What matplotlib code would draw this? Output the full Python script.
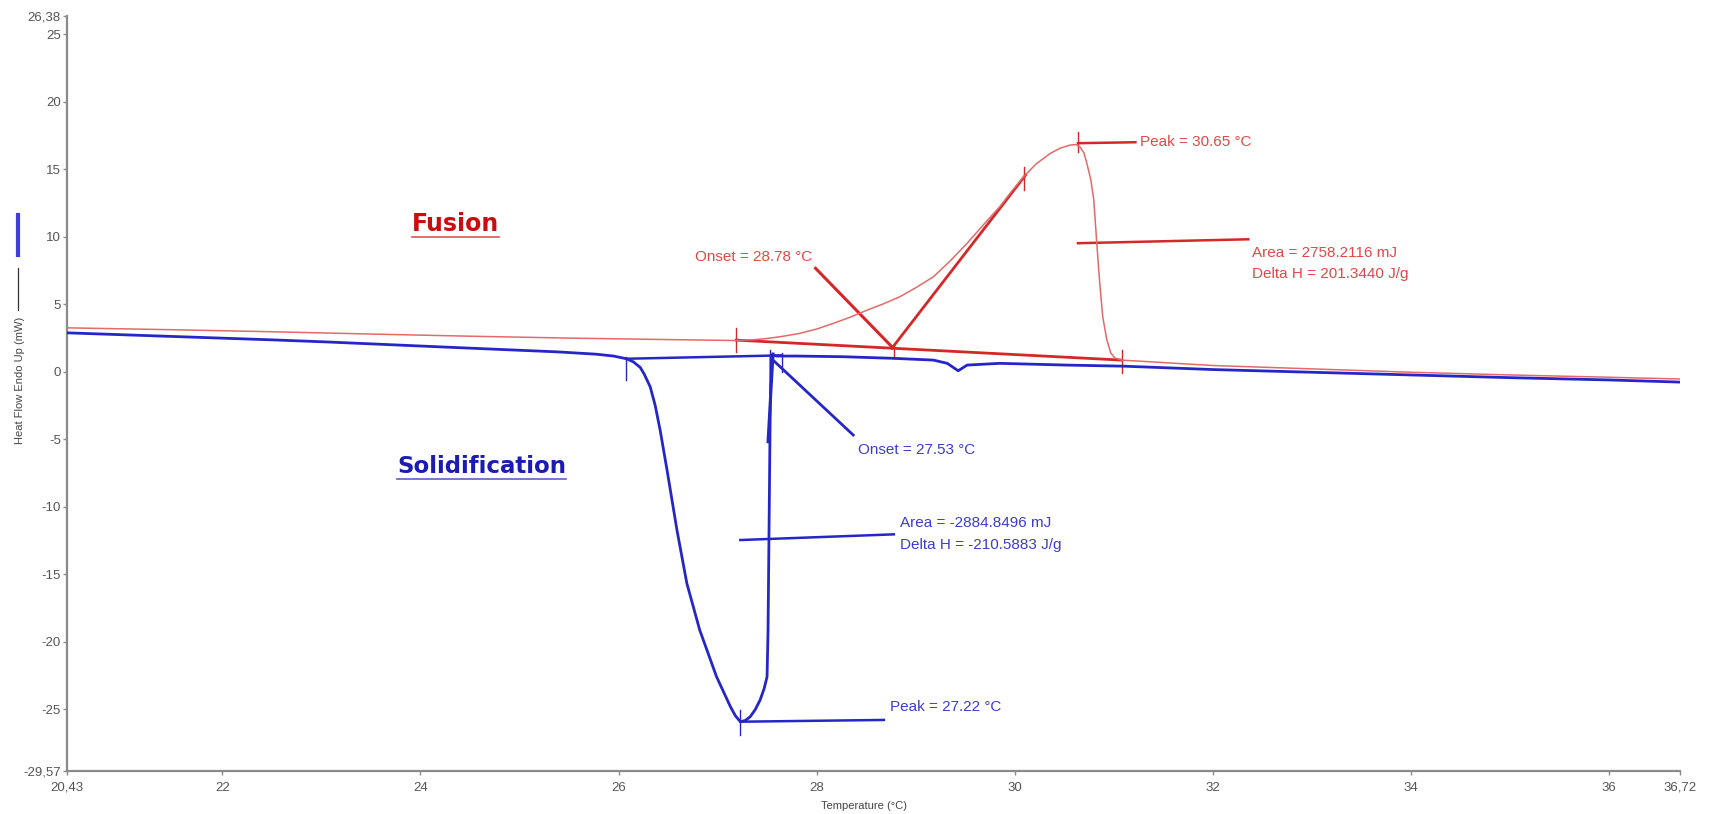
import matplotlib
matplotlib.use("Agg")
import matplotlib.pyplot as plt
from matplotlib.lines import Line2D

plt.rcParams['font.family'] = ['Liberation Sans', 'DejaVu Sans']

# ---------------- data ----------------
fusion_T = [20.43, 21.5, 22.5, 23.5, 24.5, 25.5, 26.4, 27.19, 27.35, 27.50, 27.65, 27.83,
            28.00, 28.17, 28.34, 28.51, 28.68, 28.84, 29.00, 29.18, 29.35, 29.52, 29.70,
            29.85, 29.97, 30.09, 30.22, 30.36, 30.46, 30.56, 30.62, 30.66, 30.70, 30.73,
            30.77, 30.80, 30.83, 30.86, 30.89, 30.93, 30.97, 31.01, 31.08, 32.0, 33.0,
            34.0, 35.0, 36.0, 36.72]
fusion_Q = [3.24, 3.10, 2.95, 2.78, 2.62, 2.48, 2.38, 2.30, 2.35, 2.45, 2.60, 2.83,
            3.15, 3.57, 4.03, 4.55, 5.03, 5.54, 6.20, 7.02, 8.20, 9.50, 11.00,
            12.21, 13.35, 14.43, 15.40, 16.16, 16.55, 16.78, 16.82, 16.65, 16.20, 15.42,
            14.20, 12.70, 9.50, 6.53, 4.06, 2.40, 1.40, 1.02, 0.85, 0.45, 0.20,
            -0.05, -0.25, -0.42, -0.55]

solid_T = [20.43, 21.5, 22.5, 23.07, 24.23, 25.38, 25.77, 25.95, 26.08, 26.15, 26.22, 26.26,
           26.32, 26.37, 26.42, 26.49, 26.59, 26.69, 26.82, 26.99, 27.13, 27.18, 27.23,
           27.28, 27.33, 27.38, 27.43, 27.47, 27.50, 27.51, 27.52, 27.53, 27.54, 27.60,
           27.80, 28.27, 28.78, 29.18, 29.32, 29.43, 29.52, 29.85, 30.53, 31.10, 32.0,
           33.0, 34.0, 35.0, 36.0, 36.72]
solid_Q = [2.87, 2.60, 2.35, 2.19, 1.82, 1.46, 1.29, 1.15, 0.95, 0.72, 0.30, -0.20,
           -1.13, -2.50, -4.33, -7.30, -11.74, -15.69, -19.15, -22.61, -24.83, -25.50, -25.94,
           -25.85, -25.57, -25.05, -24.33, -23.50, -22.61, -19.15, -11.74, -4.33, 1.22, 1.15,
           1.15, 1.10, 0.98, 0.85, 0.61, 0.06, 0.48, 0.61, 0.48, 0.40, 0.15,
           -0.05, -0.25, -0.45, -0.62, -0.78]

x_ticks = [20.43, 22, 24, 26, 28, 30, 32, 34, 36, 36.72]
x_labels = ['20,43', '22', '24', '26', '28', '30', '32', '34', '36', '36,72']
y_ticks = [-29.57, -25, -20, -15, -10, -5, 0, 5, 10, 15, 20, 25, 26.38]
y_labels = ['-29,57', '-25', '-20', '-15', '-10', '-5', '0', '5', '10', '15', '20', '25', '26,38']

fus_onset, fus_peak, fus_area, fus_dh = 28.78, 30.65, 2758.2116, 201.3440
sol_onset, sol_peak, sol_area, sol_dh = 27.53, 27.22, -2884.8496, -210.5883

# ---------------- figure ----------------
W, H = 1710, 814
fig = plt.figure(figsize=(W / 100, H / 100), dpi=100)
ax = fig.add_axes([67 / W, 1 - 770.7 / H, (1680 - 67) / W, (770.7 - 15.5) / H])

RED_CURVE = '#e26a6a'
RED_LINE = '#d42828'
RED_TEXT = '#e04848'
BLUE = '#2626c8'
BLUE_TEXT = '#3c3cd2'
GRAY = '#8a8a8a'

ax.plot(fusion_T, fusion_Q, color=RED_CURVE, lw=1.1, zorder=3)
ax.plot(solid_T, solid_Q, color=BLUE, lw=2.0, zorder=4, solid_joinstyle='round')

ax.set_xlim(x_ticks[0], x_ticks[-1])
ax.set_ylim(y_ticks[0], y_ticks[-1])
ax.set_xticks(x_ticks)
ax.set_xticklabels(x_labels)
ax.set_yticks(y_ticks)
ax.set_yticklabels(y_labels)
for s in ['top', 'right']:
    ax.spines[s].set_visible(False)
for s in ['left', 'bottom']:
    ax.spines[s].set_color(GRAY)
    ax.spines[s].set_linewidth(1.6)
ax.tick_params(axis='both', direction='out', length=3, width=1, color=GRAY,
               labelsize=9.5, labelcolor='#555555')
ax.tick_params(axis='y', pad=1.5)
ax.tick_params(axis='x', pad=5)

# ---------- fusion (red) annotations ----------
ax.plot([27.19, 31.08], [2.33, 0.85], color=RED_LINE, lw=2.0, zorder=2)        # baseline
ax.plot([28.76, 30.11], [1.72, 14.55], color=RED_LINE, lw=2.0, zorder=2)       # tangent
ax.plot([27.99, 28.76], [7.65, 1.84], color=RED_LINE, lw=2.2, zorder=2)        # onset leader
for tx, y0, y1 in [(27.19, 3.21, 1.43), (28.78, 1.96, 0.98), (31.08, 1.59, -0.11),
                   (30.64, 17.74, 16.25), (30.09, 15.17, 13.45)]:
    ax.plot([tx, tx], [y0, y1], color=RED_LINE, lw=1.0, zorder=2)
ax.plot([30.64, 31.22], [16.92, 16.99], color=RED_LINE, lw=1.8, zorder=2)
ax.plot([30.64, 32.36], [9.51, 9.80], color=RED_LINE, lw=1.8, zorder=2)
ax.text(31.27, 16.99, f'Peak = {fus_peak:.2f} °C', color=RED_TEXT, fontsize=11,
        ha='left', va='center')
ax.text(27.96, 8.47, f'Onset = {fus_onset:.2f} °C', color=RED_TEXT, fontsize=11,
        ha='right', va='center')
ax.text(32.40, 8.78, f'Area = {fus_area:.4f} mJ', color=RED_TEXT, fontsize=11,
        ha='left', va='center')
ax.text(32.40, 7.22, f'Delta H = {fus_dh:.4f} J/g', color=RED_TEXT, fontsize=11,
        ha='left', va='center')

# ---------- solidification (blue) annotations ----------
ax.plot([26.08, 27.65], [0.95, 1.20], color=BLUE, lw=1.8, zorder=4)            # baseline
ax.plot([27.51, 27.56], [-5.2, 1.3], color=BLUE, lw=2.2, zorder=4)             # tangent
ax.plot([27.56, 28.37], [0.85, -4.70], color=BLUE, lw=2.0, zorder=4)           # onset leader
for tx, y0, y1 in [(26.08, 1.11, -0.59), (27.53, 1.6, 0.2), (27.65, 1.41, -0.05),
                   (27.23, -25.07, -26.92)]:
    ax.plot([tx, tx], [y0, y1], color=BLUE, lw=1.0, zorder=4)
ax.plot([27.23, 28.78], [-12.48, -12.06], color=BLUE, lw=1.8, zorder=4)
ax.plot([27.23, 28.68], [-25.94, -25.81], color=BLUE, lw=1.8, zorder=4)
ax.text(28.42, -5.81, f'Onset = {sol_onset:.2f} °C', color=BLUE_TEXT, fontsize=11,
        ha='left', va='center')
ax.text(28.84, -11.22, f'Area = {sol_area:.4f} mJ', color=BLUE_TEXT, fontsize=11,
        ha='left', va='center')
ax.text(28.84, -12.87, f'Delta H = {sol_dh:.4f} J/g', color=BLUE_TEXT, fontsize=11,
        ha='left', va='center')
ax.text(28.74, -24.85, f'Peak = {sol_peak:.2f} °C', color=BLUE_TEXT, fontsize=11,
        ha='left', va='center')

# ---------- big labels ----------
t_fus = ax.text(24.35, 10.92, 'Fusion', color='#cc0c0c', fontsize=17, fontweight='bold',
                family='DejaVu Sans', ha='center', va='center')
t_sol = ax.text(24.62, -7.0, 'Solidification', color='#1c1cb4', fontsize=16.5,
                fontweight='bold', family='DejaVu Sans', ha='center', va='center')
fig.canvas.draw()
for t, c in [(t_fus, '#cc0c0c'), (t_sol, '#1c1cb4')]:
    bb = t.get_window_extent()
    yl = (bb.y0 - 1) / H
    fig.add_artist(Line2D([bb.x0 / W, bb.x1 / W], [yl, yl], color=c, lw=1.2, alpha=0.7))

# ---------- axis labels & legend glyphs ----------
fig.text(20 / W, 1 - 380 / H, 'Heat Flow Endo Up (mW)', rotation=90, fontsize=8,
         color='#444444', ha='center', va='center')
fig.text(864 / W, 1 - 806 / H, 'Temperature (°C)', fontsize=8, color='#444444',
         ha='center', va='center')
fig.add_artist(Line2D([18 / W, 18 / W], [1 - 215 / H, 1 - 255 / H], color='#4040d8', lw=3))
fig.add_artist(Line2D([18 / W, 18 / W], [1 - 268 / H, 1 - 310 / H], color='#333333', lw=0.9))

fig.savefig('out.png', dpi=100)
